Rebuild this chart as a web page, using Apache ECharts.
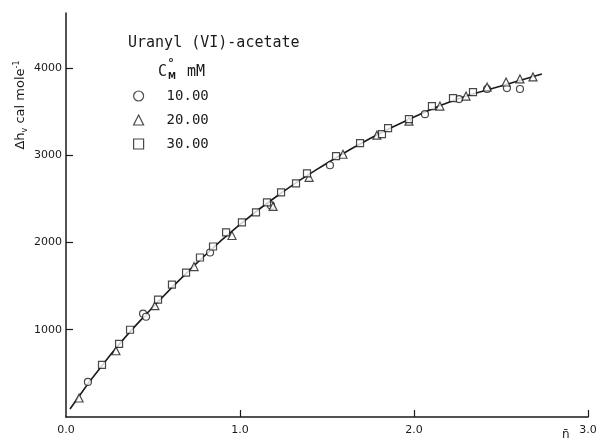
<!DOCTYPE html>
<html>
<head>
<meta charset="utf-8">
<script src="https://cdn.jsdelivr.net/npm/echarts@6/dist/echarts.min.js"></script>
<style>
  html, body { margin: 0; padding: 0; background: #fff; }
  #main { width: 610px; height: 442px; }
</style>
</head>
<body>
<div id="main"></div>
<script>
// 10.00 mM (circles)
var c10_x = [0.126, 0.443, 0.460, 0.828, 1.178, 1.517, 2.063, 2.259, 2.420, 2.534, 2.609];
var c10_y = [402, 1184, 1149, 1885, 2425, 2885, 3471, 3644, 3759, 3770, 3759];
// 20.00 mM (triangles)
var c20_x = [0.075, 0.287, 0.511, 0.736, 0.954, 1.190, 1.397, 1.592, 1.787, 1.971, 2.149, 2.299, 2.420, 2.529, 2.609, 2.684];
var c20_y = [218, 759, 1276, 1724, 2080, 2414, 2747, 3011, 3230, 3390, 3563, 3678, 3782, 3839, 3874, 3897];
// 30.00 mM (squares)
var c30_x = [0.207, 0.305, 0.368, 0.529, 0.609, 0.690, 0.770, 0.845, 0.920, 1.011, 1.092, 1.155, 1.236, 1.322, 1.385, 1.552, 1.690, 1.816, 1.851, 1.971, 2.103, 2.224, 2.339];
var c30_y = [598, 839, 1000, 1345, 1517, 1655, 1828, 1954, 2115, 2230, 2345, 2460, 2575, 2678, 2793, 2989, 3138, 3241, 3310, 3414, 3563, 3655, 3724];
// fitted curve
var fit_x = [0.023, 0.25, 0.5, 0.75, 1.0, 1.25, 1.5, 1.75, 2.0, 2.25, 2.5, 2.735];
var fit_y = [92, 700, 1260, 1760, 2207, 2586, 2908, 3195, 3437, 3644, 3793, 3931];

var xTicks = [1, 2, 3];
var yTicks = [1000, 2000, 3000, 4000];

function pairs(xs, ys) {
  var out = [];
  for (var i = 0; i < xs.length; i++) out.push([xs[i], ys[i]]);
  return out;
}

var ink = '#1a1a1a';
var font = 'DejaVu Sans';
var mono = 'DejaVu Sans Mono';
var markStyle = { color: '#fff', borderColor: ink, borderWidth: 1.2 };

var chart = echarts.init(document.getElementById('main'));
var option = {
  animation: false,
  backgroundColor: '#fff',
  grid: { left: 66, right: 22, top: 13, bottom: 25 },
  legend: {
    orient: 'vertical',
    left: 128, top: 84,
    itemWidth: 10, itemHeight: 10, itemGap: 10,
    data: [
      { name: '10.00', icon: 'circle' },
      { name: '20.00', icon: 'triangle' },
      { name: '30.00', icon: 'rect' }
    ],
    itemStyle: markStyle,
    textStyle: { fontFamily: mono, fontSize: 14, color: ink, lineHeight: 14, padding: [0, 0, 0, 18] }
  },
  xAxis: {
    type: 'value', min: 0, max: 3, interval: 1,
    name: 'n\u0304', nameLocation: 'end', nameGap: -26,
    nameTextStyle: { fontFamily: font, fontSize: 12, color: ink, verticalAlign: 'top', padding: [12, 0, 0, 0] },
    axisLine: { lineStyle: { color: ink, width: 1.5 } },
    axisTick: { inside: true, length: 7, customValues: xTicks, lineStyle: { color: ink, width: 1.2 } },
    axisLabel: { margin: 8, fontFamily: font, fontSize: 11, color: ink,
      formatter: function (v) { return v.toFixed(1); } },
    splitLine: { show: false }
  },
  yAxis: {
    type: 'value', min: 0, max: 4630, interval: 1000,
    axisLine: { show: true, lineStyle: { color: ink, width: 1.5 } },
    axisTick: { show: true, inside: true, length: 7, customValues: yTicks, lineStyle: { color: ink, width: 1.2 } },
    axisLabel: { margin: 4, fontFamily: font, fontSize: 11, color: ink, customValues: yTicks,
      formatter: function (v) { return String(v); } },
    splitLine: { show: false }
  },
  graphic: [
    {
      type: 'text', x: 21, y: 105, rotation: Math.PI / 2,
      style: {
        text: '\u0394h{sub|v} cal mole{sup|-1}',
        fontFamily: font, fontSize: 13, fill: ink, align: 'center', verticalAlign: 'middle',
        rich: {
          sub: { fontFamily: font, fontSize: 8, fill: ink, verticalAlign: 'bottom', padding: [6, 0, 0, 0] },
          sup: { fontFamily: font, fontSize: 8, fill: ink, verticalAlign: 'top', padding: [0, 0, 8, 0] }
        }
      }
    },
    {
      type: 'text', x: 128, y: 43,
      style: { text: 'Uranyl (VI)-acetate', fontFamily: mono, fontSize: 15, fill: ink, verticalAlign: 'middle' }
    },
    {
      type: 'text', x: 158, y: 72,
      style: { text: 'C', fontFamily: mono, fontSize: 15, fill: ink, verticalAlign: 'middle' }
    },
    {
      type: 'text', x: 168, y: 64,
      style: { text: '\u00b0', fontFamily: font, fontSize: 12, fontWeight: 'bold', fill: ink, verticalAlign: 'middle' }
    },
    {
      type: 'text', x: 168, y: 77,
      style: { text: 'M', fontFamily: font, fontSize: 8, fontWeight: 'bold', fill: ink, verticalAlign: 'middle' }
    },
    {
      type: 'text', x: 187, y: 72,
      style: { text: 'mM', fontFamily: mono, fontSize: 15, fill: ink, verticalAlign: 'middle' }
    }
  ],
  series: [
    {
      name: 'fit', type: 'line', smooth: true, showSymbol: false, silent: true,
      data: pairs(fit_x, fit_y), z: 1,
      lineStyle: { color: ink, width: 1.6 }
    },
    {
      name: '10.00', type: 'scatter', symbol: 'circle', symbolSize: 7,
      data: pairs(c10_x, c10_y), itemStyle: markStyle, z: 3
    },
    {
      name: '20.00', type: 'scatter', symbol: 'triangle', symbolSize: 8,
      data: pairs(c20_x, c20_y), itemStyle: markStyle, z: 3
    },
    {
      name: '30.00', type: 'scatter', symbol: 'rect', symbolSize: 7,
      data: pairs(c30_x, c30_y), itemStyle: markStyle, z: 3
    }
  ]
};
chart.setOption(option);
</script>
</body>
</html>
